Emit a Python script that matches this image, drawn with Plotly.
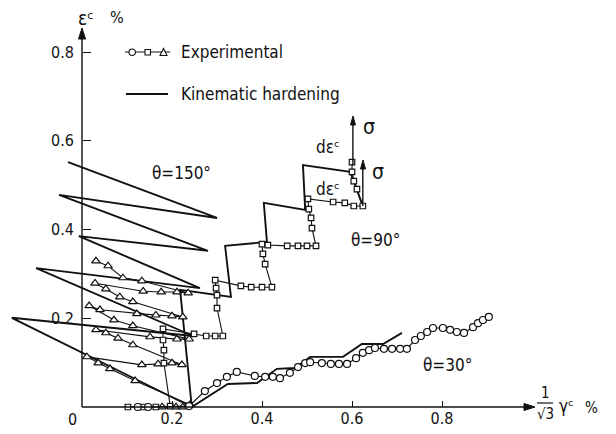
import plotly.graph_objects as go

# ---------------- data ----------------
# theta = 150 deg : experimental (triangles)
exp150_x = [0.178, 0.209, 0.224, 0.240,
            0.118, 0.062, 0.036, 0.011,
            0.133, 0.169, 0.200, 0.222,
            0.113, 0.080, 0.053, 0.031,
            0.151, 0.211, 0.238,
            0.113, 0.071, 0.016,
            0.040, 0.122, 0.164, 0.200, 0.224,
            0.113, 0.084, 0.053, 0.029,
            0.136, 0.176, 0.211, 0.236,
            0.133, 0.091, 0.058, 0.031]
exp150_y = [0.000, 0.000, 0.000, 0.005,
            0.059, 0.086, 0.099, 0.113,
            0.095, 0.097, 0.099, 0.095,
            0.140, 0.155, 0.167, 0.174,
            0.158, 0.153, 0.153,
            0.183, 0.196, 0.228,
            0.219, 0.210, 0.207, 0.205, 0.203,
            0.237, 0.248, 0.266, 0.279,
            0.261, 0.259, 0.259, 0.257,
            0.284, 0.291, 0.318, 0.329]

# theta = 90 deg : experimental (squares)
exp90_x = [0.102, 0.136, 0.164, 0.196,
           0.182, 0.182, 0.180, 0.180,
           0.249, 0.276, 0.296, 0.313,
           0.300, 0.300, 0.298, 0.296,
           0.353, 0.376, 0.400, 0.422,
           0.407, 0.402, 0.400, 0.413,
           0.456, 0.480, 0.500, 0.520,
           0.511, 0.509, 0.504, 0.502,
           0.558, 0.584, 0.604, 0.624,
           0.611, 0.604, 0.600, 0.600]
exp90_y = [0.000, 0.000, 0.000, 0.002,
           0.099, 0.128, 0.151, 0.176,
           0.165, 0.160, 0.160, 0.160,
           0.223, 0.252, 0.268, 0.286,
           0.273, 0.270, 0.270, 0.270,
           0.322, 0.345, 0.367, 0.365,
           0.363, 0.363, 0.363, 0.363,
           0.403, 0.426, 0.446, 0.469,
           0.462, 0.460, 0.453, 0.453,
           0.491, 0.509, 0.530, 0.552]

# theta = 30 deg : experimental (circles)
exp30_x = [0.124, 0.147, 0.238, 0.273, 0.300, 0.322, 0.344, 0.384, 0.407,
           0.424, 0.440, 0.462, 0.480, 0.496, 0.507, 0.533, 0.553, 0.571,
           0.589, 0.609, 0.624, 0.638, 0.651, 0.671, 0.689, 0.707, 0.722,
           0.740, 0.753, 0.767, 0.780, 0.802, 0.818, 0.833, 0.849, 0.869,
           0.880, 0.891, 0.904]
exp30_y = [0.000, 0.000, 0.002, 0.036, 0.054, 0.068, 0.079, 0.070, 0.068,
           0.068, 0.065, 0.077, 0.090, 0.099, 0.101, 0.099, 0.097, 0.097,
           0.097, 0.110, 0.122, 0.128, 0.133, 0.131, 0.131, 0.131, 0.131,
           0.151, 0.160, 0.169, 0.178, 0.178, 0.174, 0.169, 0.167, 0.180,
           0.189, 0.196, 0.203]

# kinematic hardening predictions
kin150_x = [0.244, -0.156, 0.247, -0.102, 0.262, -0.007, 0.280, -0.051, 0.300, -0.031]
kin150_y = [0.000, 0.201, 0.160, 0.313, 0.268, 0.385, 0.352, 0.478, 0.426, 0.552]

kin90_x = [0.244, 0.218, 0.331, 0.318, 0.411, 0.404, 0.496, 0.491, 0.596, 0.624]
kin90_y = [0.000, 0.264, 0.248, 0.363, 0.372, 0.460, 0.444, 0.545, 0.530, 0.453]

kin30_x = [0.244, 0.324, 0.389, 0.433, 0.473, 0.507, 0.580, 0.622, 0.669, 0.711]
kin30_y = [0.000, 0.052, 0.054, 0.086, 0.088, 0.113, 0.113, 0.142, 0.142, 0.167]

tick_vals = [0.2, 0.4, 0.6, 0.8]
tick_text = ["0.2", "0.4", "0.6", "0.8"]

# ---------------- layout geometry ----------------
W, H = 616, 434
X0, Y0 = 82, 407          # pixel position of the origin
SX, SY = 450.0, 443.75    # pixels per unit
x_range = [-X0 / SX, (W - X0) / SX]
y_range = [-(H - Y0) / SY, Y0 / SY]

FONT = "Liberation Sans Narrow, DejaVu Sans Condensed, Liberation Sans, Arial, sans-serif"
INK = "#111111"


def pp(xp, yp):
    """pixel -> paper coordinates"""
    return xp / W, 1 - yp / H


fig = go.Figure()

for kx, ky in [(kin150_x, kin150_y), (kin90_x, kin90_y), (kin30_x, kin30_y)]:
    fig.add_trace(go.Scatter(x=kx, y=ky, mode="lines",
                             line=dict(color=INK, width=1.9),
                             showlegend=False, hoverinfo="skip"))

for ex, ey, sym, sz in [(exp150_x, exp150_y, "triangle-up", 7.5),
                        (exp90_x, exp90_y, "square", 5.5),
                        (exp30_x, exp30_y, "circle", 7)]:
    fig.add_trace(go.Scatter(x=ex, y=ey, mode="lines+markers",
                             line=dict(color=INK, width=1.1),
                             marker=dict(symbol=sym, size=sz, color="white",
                                         line=dict(color=INK, width=1.2)),
                             showlegend=False, hoverinfo="skip"))

annotations = []
shapes = []


def seg(x0, y0, x1, y1, width=1.4):
    shapes.append(dict(type="line", xref="x", yref="y", x0=x0, y0=y0, x1=x1, y1=y1,
                       line=dict(color=INK, width=width)))


def head(tip, b1, b2):
    a, b, c = pp(*tip), pp(*b1), pp(*b2)
    shapes.append(dict(type="path", xref="paper", yref="paper",
                       path=f"M {a[0]},{a[1]} L {b[0]},{b[1]} L {c[0]},{c[1]} Z",
                       fillcolor=INK, line=dict(color=INK, width=1)))


# axes with arrow heads
seg(0, 0, 1.0, 0)
head((535, 407), (524, 403.5), (524, 410.5))
seg(0, 0, 0, 0.845)
head((82, 28), (78.5, 39), (85.5, 39))

# stress arrows (sigma)
seg(0.602, 0.545, 0.602, 0.640)
head((353, 116), (350.5, 125), (355.5, 125))
seg(0.624, 0.453, 0.624, 0.545)
head((363, 160), (360.5, 169), (365.5, 169))


def txt(s, xp, yp, size=17, xanchor="center", family=FONT):
    x, y = pp(xp, yp)
    annotations.append(dict(x=x, y=y, xref="paper", yref="paper", text=s,
                            showarrow=False, xanchor=xanchor, yanchor="middle",
                            font=dict(family=family, size=size, color=INK)))


# y tick labels, placed on the y scale
for v, t in zip(tick_vals, tick_text):
    annotations.append(dict(x=76 / W, y=v, xref="paper", yref="y", text=t,
                            showarrow=False, xanchor="right", yanchor="middle",
                            font=dict(family=FONT, size=16, color=INK)))

txt("θ=150°", 181, 173)
txt("θ=90°", 375, 240)
txt("θ=30°", 447, 365)
txt("dεᶜ", 328, 147)
txt("dεᶜ", 328, 189)
txt("σ", 369, 127, size=21)
txt("σ", 378, 172, size=21)
txt("Experimental", 179, 52, xanchor="left")
txt("Kinematic hardening", 179, 94, xanchor="left")
txt("εᶜ", 76, 18, size=19, xanchor="left")
txt("%", 108, 17, size=16, xanchor="left")
txt("0", 72, 419, size=16)
txt("1", 545, 393, size=15)
txt("√3", 545, 414, size=15)
txt("γᶜ", 557, 406, size=17, xanchor="left")
txt("%", 583, 408, size=15, xanchor="left")

# fraction bar
x1, y1 = pp(537, 403)
x2, _ = pp(553, 403)
shapes.append(dict(type="line", xref="paper", yref="paper", x0=x1, y0=y1, x1=x2, y1=y1,
                   line=dict(color=INK, width=1.2)))

# legend samples
lx0, ly = pp(125, 52)
lx1, _ = pp(170, 52)
shapes.append(dict(type="line", xref="paper", yref="paper", x0=lx0, y0=ly, x1=lx1, y1=ly,
                   line=dict(color=INK, width=1)))
cx0, cy0 = pp(129, 49)
cx1, cy1 = pp(135.5, 55.5)
shapes.append(dict(type="circle", xref="paper", yref="paper", x0=cx0, y0=cy1, x1=cx1, y1=cy0,
                   fillcolor="white", line=dict(color=INK, width=1.1)))
sx0, sy0 = pp(145, 49.5)
sx1, sy1 = pp(150.5, 55)
shapes.append(dict(type="rect", xref="paper", yref="paper", x0=sx0, y0=sy1, x1=sx1, y1=sy0,
                   fillcolor="white", line=dict(color=INK, width=1.1)))
ta = pp(160, 55.5)
tb = pp(167, 55.5)
tc = pp(163.5, 48.5)
shapes.append(dict(type="path", xref="paper", yref="paper",
                   path=f"M {ta[0]},{ta[1]} L {tb[0]},{tb[1]} L {tc[0]},{tc[1]} Z",
                   fillcolor="white", line=dict(color=INK, width=1.1)))
kx0, ky = pp(126, 94)
kx1, _ = pp(168, 94)
shapes.append(dict(type="line", xref="paper", yref="paper", x0=kx0, y0=ky, x1=kx1, y1=ky,
                   line=dict(color=INK, width=1.8)))

fig.update_layout(
    width=W, height=H,
    margin=dict(l=0, r=0, t=0, b=0),
    paper_bgcolor="white", plot_bgcolor="white",
    showlegend=False,
    annotations=annotations,
    shapes=shapes,
    xaxis=dict(range=x_range, domain=[0, 1], anchor="free", position=(H - Y0) / H,
               tickvals=tick_vals, ticktext=tick_text, ticks="inside", ticklen=6,
               tickwidth=1.3, tickcolor=INK, showgrid=False, zeroline=False,
               showline=False, tickfont=dict(family=FONT, size=16, color=INK)),
    yaxis=dict(range=y_range, domain=[0, 1], anchor="free", position=X0 / W,
               tickvals=tick_vals, ticks="inside", ticklen=8, showticklabels=False,
               tickwidth=1.3, tickcolor=INK, showgrid=False, zeroline=False,
               showline=False),
)

fig.write_html("out.html")
